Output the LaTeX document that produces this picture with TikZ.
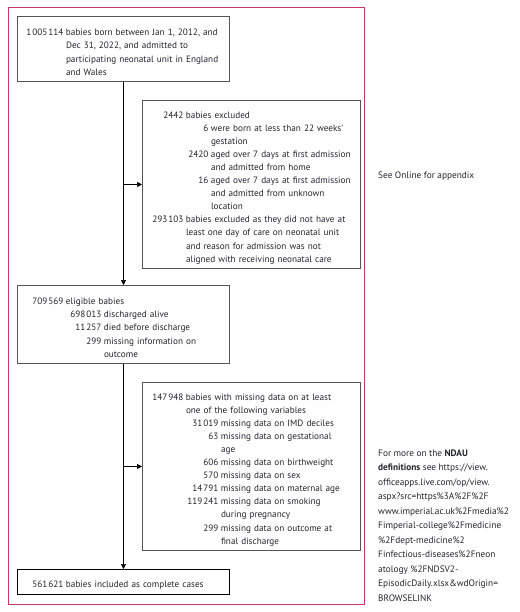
\documentclass[tikz,border=0pt]{standalone}
\usepackage{fontspec}
\setmainfont{PT Sans}
\usetikzlibrary{positioning,arrows.meta}
\definecolor{framecol}{RGB}{204,51,102}
\definecolor{boxcol}  {RGB}{85,85,85}
\definecolor{txtcol}  {RGB}{35,35,45}
\setlength{\parskip}{0pt}
\setlength{\parindent}{0pt}
% thin space in large numbers
\newcommand{\ts}{\kern1pt}
% number right aligned in a column, text hanging after it
\newcommand{\nrow}[3]{\par\noindent\hangindent=\dimexpr#1+2.5pt\relax\hangafter=1
  \makebox[#1][r]{#2}\hspace{2.5pt}#3\par}

\begin{document}
\begin{tikzpicture}[x=1pt,y=-1pt,
  fbox/.style={rectangle,draw=boxcol,line width=1pt,anchor=north west,
               inner xsep=6pt,inner ysep=0pt,align=left,text=txtcol,
               font=\fontsize{9.2}{13.1}\selectfont},
  wbox/.style={fbox,text width=200pt,minimum height=#1},
  nbox/.style={fbox,text width=206pt,minimum height=#1},
  side/.style={inner sep=0pt,align=left,text=txtcol,
               font=\fontsize{9.3}{14.5}\selectfont},
  arr/.style={-{Triangle[length=5pt,width=5pt]},line width=0.7pt,black},
  >=Stealth
]
\useasboundingbox (0,0) rectangle (519,612);
\draw[framecol,line width=0.9pt] (8,7) rectangle (364,604);

\node[wbox=65pt] (born) at (17,16)
  {\nrow{40pt}{1\ts005\ts114}{babies born between Jan 1, 2012, and\newline
     Dec 31, 2022, and admitted to\newline
     participating neonatal unit in England\newline
     and Wales}};
\node[nbox=168pt] (excl) at (142,100)
  {\nrow{35pt}{2442}{babies excluded}
   \nrow{60pt}{6}{were born at less than 22 weeks'\newline gestation}
   \nrow{60pt}{2420}{aged over 7 days at first admission\newline and admitted from home}
   \nrow{60pt}{16}{aged over 7 days at first admission\newline and admitted from unknown\newline location}
   \nrow{35pt}{293\ts103}{babies excluded as they did not have at\newline
     least one day of care on neonatal unit\newline
     and reason for admission was not\newline
     aligned with receiving neonatal care}};
\node[wbox=78pt] (elig) at (17,285)
  {\nrow{40pt}{709\ts569}{eligible babies}
   \nrow{78pt}{698\ts013}{discharged alive}
   \nrow{78pt}{11\ts257}{died before discharge}
   \nrow{78pt}{299}{missing information on\newline outcome}};
\node[nbox=168pt] (miss) at (142,382)
  {\nrow{35pt}{147\ts948}{babies with missing data on at least\newline one of the following variables}
   \nrow{70pt}{31\ts019}{missing data on IMD deciles}
   \nrow{70pt}{63}{missing data on gestational\newline age}
   \nrow{70pt}{606}{missing data on birthweight}
   \nrow{70pt}{570}{missing data on sex}
   \nrow{70pt}{14\ts791}{missing data on maternal age}
   \nrow{70pt}{119\ts241}{missing data on smoking\newline during pregnancy}
   \nrow{70pt}{299}{missing data on outcome at\newline final discharge}};
\node[wbox=25pt,draw=black] (cases) at (17,569)
  {\nrow{40pt}{561\ts621}{babies included as complete cases}};

\coordinate (j1) at (born.south |- excl.west);
\coordinate (j2) at (elig.south |- miss.west);
\draw[arr] (born.south)--(elig.north);
\draw[arr] (j1)--(excl.west);
\draw[arr] (elig.south)--(cases.north);
\draw[arr] (j2)--(miss.west);

\node[side,anchor=base west] (appx) at (378,179) {See Online for appendix};
\node[side,anchor=north west] (ndau) at (378,449.5)
  {For more on the \textbf{NDAU}\\
   \textbf{definitions} see https://view.\\
   officeapps.live.com/op/view.\\
   aspx?src=https\%3A\%2F\%2F\\
   www.imperial.ac.uk\%2Fmedia\%2\\
   Fimperial-college\%2Fmedicine\\
   \%2Fdept-medicine\%2\\
   Finfectious-diseases\%2Fneon\\
   atology \%2FNDSV2-\\
   EpisodicDaily.xlsx\&wdOrigin=\\
   BROWSELINK};
\end{tikzpicture}
\end{document}
